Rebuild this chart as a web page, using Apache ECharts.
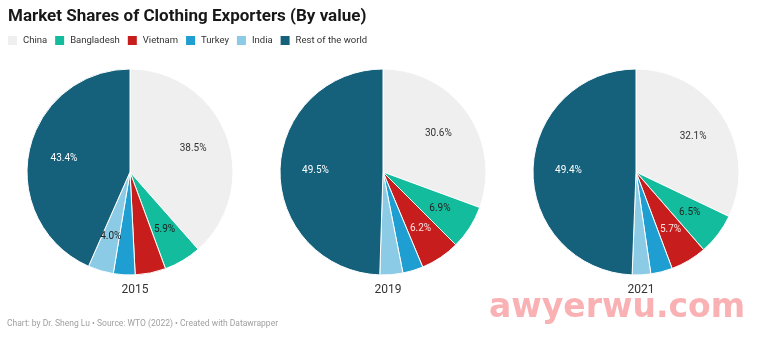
<!DOCTYPE html>
<html><head><meta charset="utf-8">
<script src="https://cdn.jsdelivr.net/npm/echarts@6/dist/echarts.min.js"></script>
<style>html,body{margin:0;padding:0;background:#fff}#c{width:766px;height:337px}</style>
</head><body><div id="c"></div>
<script>
const categories = ["China","Bangladesh","Vietnam","Turkey","India","Rest of the world"];
const years = ["2015","2019","2021"];
const values2015 = [38.5, 5.9, 4.8, 3.4, 4.0, 43.4];
const values2019 = [30.6, 6.9, 6.2, 3.2, 3.6, 49.5];
const values2021 = [32.1, 6.5, 5.7, 3.4, 2.9, 49.4];
const allValues = [values2015, values2019, values2021];

const colors = ["#efefef","#12bc9c","#c71e1d","#1f9fd1","#8ccbe6","#15607a"];
const labelColors = ["#333","#222","#ffe3e3","#fff","#222","#fff"];
const centersX = [130, 383, 636];
const cy = 172, R = 103;

const series = [];
allValues.forEach((vals, i) => {
  series.push({
    type: 'pie', center: [centersX[i], cy], radius: [0, R], startAngle: 90, clockwise: true,
    label: {show: false}, labelLine: {show: false}, silent: true, animation: false,
    itemStyle: {borderColor: '#fff', borderWidth: 1},
    data: categories.map((c, k) => ({name: c, value: vals[k], itemStyle: {color: colors[k]}}))
  });
  series.push({
    type: 'pie', center: [centersX[i], cy], radius: [26, R], startAngle: 90, clockwise: true,
    silent: true, animation: false, legendHoverLink: false,
    itemStyle: {color: 'rgba(0,0,0,0)', borderWidth: 0},
    labelLine: {show: false},
    data: categories.map((c, k) => ({
      name: c, value: vals[k],
      itemStyle: {color: 'rgba(0,0,0,0)'},
      label: {show: vals[k] >= 4, position: 'inside', color: labelColors[k],
        fontSize: 10, fontFamily: 'Roboto', formatter: v => v.value.toFixed(1) + '%'}
    }))
  });
});

const chart = echarts.init(document.getElementById('c'), null, {renderer: 'canvas'});
chart.setOption({
  backgroundColor: '#fff',
  animation: false,
  title: [
    {text: 'Market Shares of Clothing Exporters (By value)', left: 3, top: 3,
     textStyle: {fontFamily: 'Roboto', fontWeight: 'bold', fontSize: 17, color: '#181818'}},
    ...years.map((y, i) => ({text: y, left: centersX[i], top: 279, textAlign: 'center',
     textStyle: {fontFamily: 'Roboto', fontWeight: 'normal', fontSize: 12, color: '#333'}})),
    {text: 'Chart: by Dr. Sheng Lu • Source: WTO (2022) • Created with Datawrapper', left: 2, top: 314,
     textStyle: {fontFamily: 'Roboto', fontWeight: 'normal', fontSize: 8.5, color: '#a0a0a0'}}
  ],
  legend: {
    data: categories, left: 1, top: 29, icon: 'rect', itemWidth: 11, itemHeight: 11, itemGap: 6,
    textStyle: {fontFamily: 'Roboto', fontSize: 9.5, color: '#333'},
    selectedMode: false
  },
  graphic: [{
    type: 'text', x: 489, y: 292, silent: true,
    style: {text: 'awyerwu.com', fill: '#f9b1b4', font: 'bold 33px "DejaVu Sans"'}
  }],
  series: series
});
</script></body></html>
